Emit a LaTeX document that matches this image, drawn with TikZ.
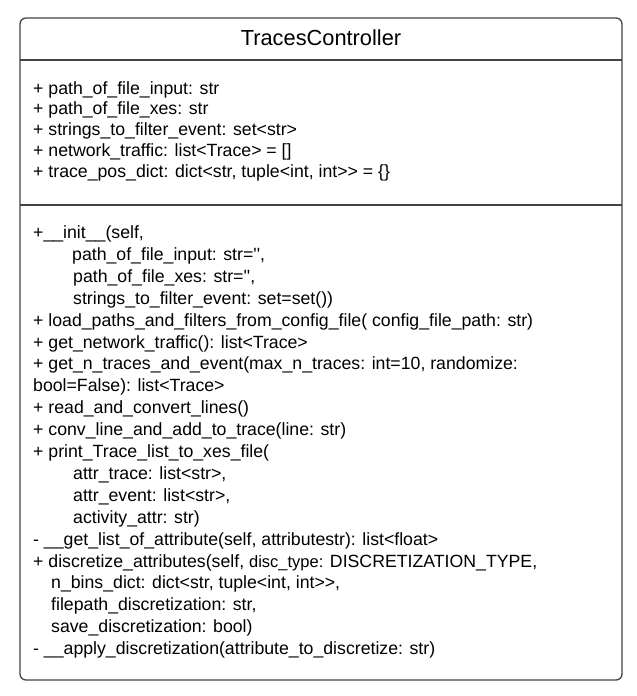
\documentclass[tikz,border=0pt]{standalone}
\usepackage{fontspec}
\setmainfont{Liberation Sans}[Ligatures=TeXOff]
\definecolor{bordercol}{HTML}{3F444B}
\begin{document}
\begin{tikzpicture}[x=1pt,y=-1pt,
  txt/.style={anchor=base west, inner sep=0pt, font=\fontsize{17.7}{21}\selectfont},
  frame/.style={draw=bordercol, line width=1.3pt}]
\useasboundingbox (0,0) rectangle (637,696);
\draw[frame, rounded corners=6pt] (20,18) rectangle (622,680);
\draw[frame] (20,60) -- (622,60);
\draw[frame] (20,205) -- (622,205);
\node (title) [anchor=base, inner sep=0pt, font=\fontsize{21.8}{26}\selectfont] at (321,45) {TracesController};
% attributes
\node (a1) [txt] at (33,94.0) {+ path\_of\_file\_input: str};
\node (a2) [txt] at (33,114.8) {+ path\_of\_file\_xes: str};
\node (a3) [txt] at (33,135.6) {+ strings\_to\_filter\_event: set<str>};
\node (a4) [txt] at (33,156.4) {+ network\_traffic: list<Trace> = []};
\node (a5) [txt] at (33,177.2) {+ trace\_pos\_dict: dict<str, tuple<int, int>> = \{\}};
% methods
\node (m1) [txt] at (33,238.5) {+\_\_init\_\_(self,};
\node (m2) [txt] at (72,260.4) {path\_of\_file\_input: str=\textquotesingle\textquotesingle,};
\node (m3) [txt] at (73,282.3) {path\_of\_file\_xes: str=\textquotesingle\textquotesingle,};
\node (m4) [txt] at (73,304.2) {strings\_to\_filter\_event: set=set())};
\node (m5) [txt] at (33,326.1) {+ load\_paths\_and\_filters\_from\_config\_file( config\_file\_path: str)};
\node (m6) [txt] at (33,348.0) {+ get\_network\_traffic(): list<Trace>};
\node (m7) [txt] at (33,369.9) {+ get\_n\_traces\_and\_event(max\_n\_traces: int=10, randomize:};
\node (m8) [txt] at (33,391.8) {bool=False): list<Trace>};
\node (m9) [txt] at (33,413.7) {+ read\_and\_convert\_lines()};
\node (m10) [txt] at (33,435.6) {+ conv\_line\_and\_add\_to\_trace(line: str)};
\node (m11) [txt] at (33,457.5) {+ print\_Trace\_list\_to\_xes\_file(};
\node (m12) [txt] at (73,479.4) {attr\_trace: list<str>,};
\node (m13) [txt] at (73,501.3) {attr\_event: list<str>,};
\node (m14) [txt] at (73,523.2) {activity\_attr: str)};
\node (m15) [txt] at (33,545.1) {- \_\_get\_list\_of\_attribute(self, attributestr): list<float>};
\node (m16) [txt] at (33,567.0) {+ discretize\_attributes(self, {\fontsize{16.5}{20}\selectfont disc\_type:} DISCRETIZATION\_TYPE,};
\node (m17) [txt] at (51,588.9) {n\_bins\_dict: dict<str, tuple<int, int>>,};
\node (m18) [txt] at (51,610.8) {filepath\_discretization: str,};
\node (m19) [txt] at (51,632.7) {save\_discretization: bool)};
\node (m20) [txt] at (33,654.6) {- \_\_apply\_discretization(attribute\_to\_discretize: str)};
\end{tikzpicture}
\end{document}
